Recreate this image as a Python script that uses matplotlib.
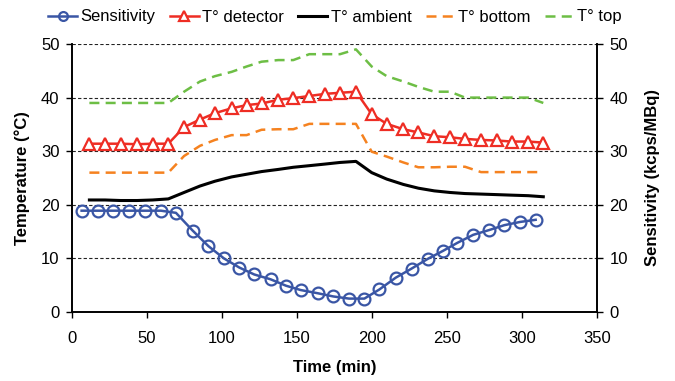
import matplotlib
matplotlib.use("Agg")
import matplotlib.pyplot as plt

plt.rcParams['font.family'] = ['Liberation Sans', 'DejaVu Sans']

sens_t = [6.4, 17.5, 27.5, 38.2, 48.7, 59.3, 69.3, 80.4, 90.9, 101.3, 111.5, 121.5, 132.4, 142.7,
          152.4, 163.8, 174.2, 184.7, 194.9, 204.9, 215.8, 226.4, 237.1, 247.3, 256.9, 267.5,
          278.2, 288.2, 298.7, 309.1]
sensitivity = [18.9, 18.9, 18.9, 18.9, 18.9, 18.9, 18.5, 15.2, 12.3, 10.0, 8.3, 7.0, 6.1, 4.9,
               4.1, 3.5, 2.9, 2.5, 2.5, 4.2, 6.4, 8.1, 9.9, 11.4, 12.9, 14.4, 15.3, 16.2, 16.8, 17.2]

temp_t = [11.6, 22.0, 32.4, 43.5, 53.8, 64.2, 74.7, 85.3, 95.3, 106.4, 116.4, 126.4, 137.5, 147.5,
          158.2, 168.7, 178.7, 189.3, 199.8, 209.8, 220.9, 230.9, 241.5, 252.0, 262.0, 272.7,
          283.1, 293.1, 304.2, 314.2]
t_detector = [31.4, 31.4, 31.4, 31.3, 31.4, 31.4, 34.5, 35.9, 37.1, 38.0, 38.6, 38.9, 39.6, 39.9,
              40.3, 40.7, 40.9, 41.1, 36.9, 35.1, 34.1, 33.5, 32.8, 32.6, 32.3, 32.1, 32.0, 31.8,
              31.8, 31.6]
t_ambient = [20.9, 20.9, 20.8, 20.8, 20.9, 21.1, 22.3, 23.5, 24.4, 25.2, 25.7, 26.2, 26.6, 27.0,
             27.3, 27.6, 27.9, 28.1, 26.0, 24.8, 23.8, 23.1, 22.6, 22.3, 22.1, 22.0, 21.9, 21.8,
             21.7, 21.5]
t_bottom = [26.0, 26.0, 26.0, 26.0, 26.0, 26.0, 29.1, 31.0, 32.1, 33.0, 33.0, 34.0, 34.1, 34.1,
            35.1, 35.1, 35.1, 35.1, 29.9, 29.0, 27.9, 27.0, 27.0, 27.1, 27.1, 26.1, 26.1, 26.1,
            26.1, 26.1]
t_top = [39.0, 39.0, 39.0, 39.0, 39.0, 39.0, 41.1, 43.0, 44.0, 44.8, 45.8, 46.7, 47.0, 47.0,
         48.1, 48.1, 48.1, 49.0, 45.8, 44.0, 43.0, 42.0, 41.1, 41.1, 40.0, 40.0, 40.0, 40.0,
         40.0, 39.0]

BLUE = '#3A56A5'
RED = '#EE2D24'
ORANGE = '#F58220'
GREEN = '#6DBE45'
FS = 12

fig = plt.figure(figsize=(6.75, 3.81), dpi=100)
ax = fig.add_axes([72/675, 1-312/381, (597-72)/675, (312-44)/381])
ax2 = ax.twinx()

for y in [10, 20, 30, 40, 50]:
    ax.axhline(y, color='#222222', lw=0.8, ls=(0, (3, 2)), zorder=0)

l3, = ax.plot(temp_t, t_ambient, color='black', lw=2.2, label='T° ambient')
l4, = ax.plot(temp_t, t_bottom, color=ORANGE, lw=1.8, ls=(0, (4, 2.5)), label='T° bottom')
l5, = ax.plot(temp_t, t_top, color=GREEN, lw=1.8, ls=(0, (4, 2.5)), label='T° top')
l2, = ax.plot(temp_t, t_detector, color=RED, lw=1.8, marker='^', markersize=9,
              markerfacecolor='white', markeredgecolor=RED, markeredgewidth=1.6, label='T° detector')
l1, = ax2.plot(sens_t, sensitivity, color=BLUE, lw=1.8, marker='o', markersize=8.5,
               markerfacecolor='none', markeredgecolor=BLUE, markeredgewidth=1.6, label='Sensitivity')

for a in (ax, ax2):
    a.set_xlim(0, 350)
    a.set_ylim(0, 50)
    a.set_yticks([0, 10, 20, 30, 40, 50])
    a.spines['top'].set_visible(False)
    a.tick_params(direction='out', length=4, width=1, labelsize=FS, pad=5)
    for s in a.spines.values():
        s.set_linewidth(1.2)
ax.set_xticks([0, 50, 100, 150, 200, 250, 300, 350])
ax.tick_params(axis='x', pad=10)
ax.set_xlabel('Time (min)', fontsize=FS, fontweight='bold', labelpad=10)
ax.set_ylabel('Temperature (°C)', fontsize=FS, fontweight='bold', labelpad=8)
ax2.set_ylabel('Sensitivity (kcps/MBq)', fontsize=FS, fontweight='bold', labelpad=12)
ax2.patch.set_visible(False)

fig.legend(handles=[l1, l2, l3, l4, l5], loc='center', bbox_to_anchor=(335/675, 1 - 17/381),
           ncol=5, frameon=False, fontsize=FS, handlelength=1.75, handletextpad=0.2,
           columnspacing=0.85, borderaxespad=0, markerscale=0.75)

fig.savefig('out.png', dpi=100)
